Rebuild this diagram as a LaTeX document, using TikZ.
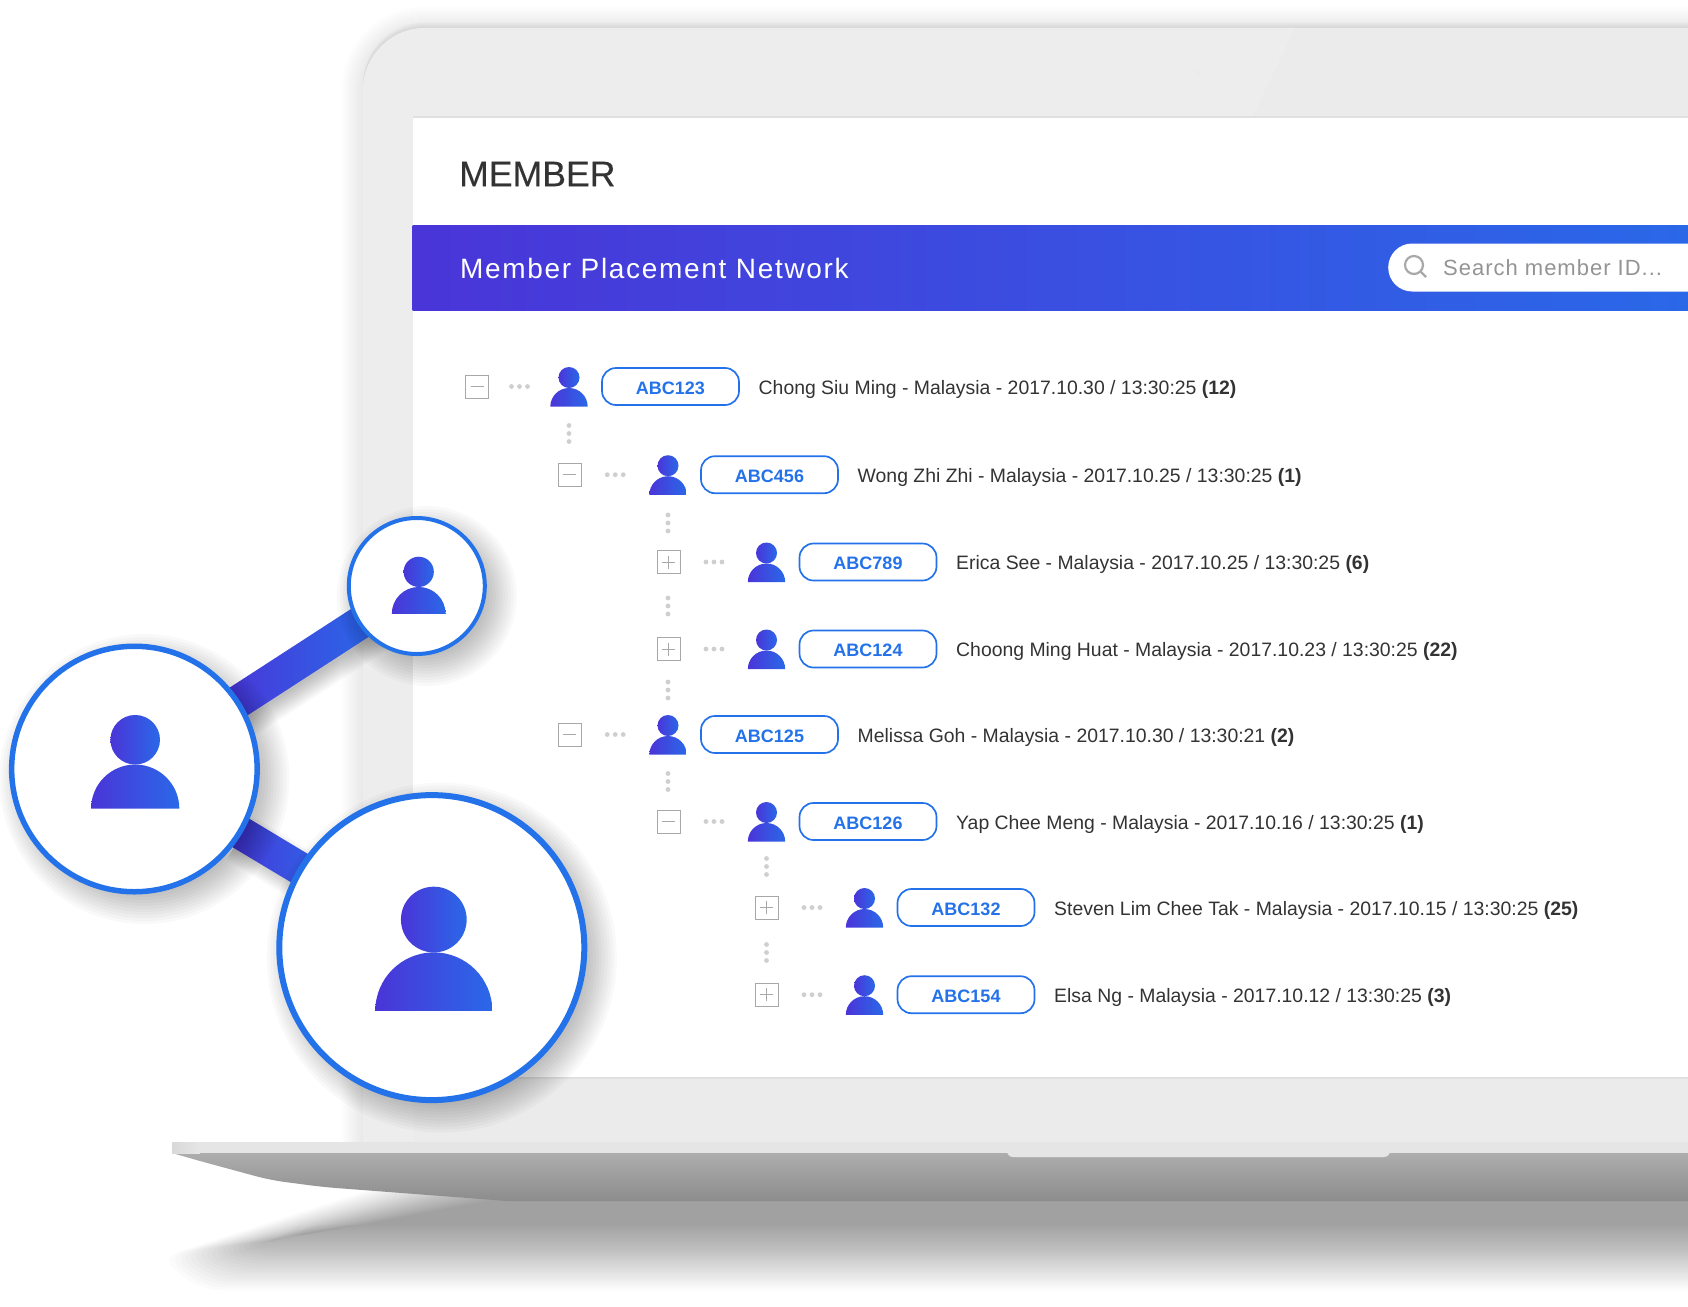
\documentclass[tikz,border=0pt]{standalone}
\usepackage{fontspec}
\setmainfont{Liberation Sans}
\usetikzlibrary{calc}
\definecolor{gradleft}{HTML}{4A35D8}
\definecolor{gradright}{HTML}{2A68E8}
\definecolor{ringblue}{HTML}{2472EA}
\definecolor{lidgrey}{HTML}{EBEBEB}
\definecolor{dotgrey}{HTML}{CFCFCF}
\definecolor{boxgrey}{HTML}{A8A8A8}
\definecolor{inkgrey}{HTML}{333333}
\tikzset{
    gradfill/.style={left color=gradleft, right color=gradright},
    softshadow/.style={black, opacity=0.022},
    person/.pic={
        \shade[gradfill] (0,-9) circle (10.5);
        \shade[gradfill] (-18.7,20.2) arc[start angle=180, delta angle=180, radius=18.7] -- cycle;
    },
    ringnode/.style={circle, draw=ringblue, fill=white, inner sep=0},
    idpill/.style={draw=ringblue, line width=1.7, rounded corners=14, minimum width=137,
        minimum height=37, inner sep=0, text height=15, text depth=0, text=ringblue, font=\fontsize{18}{20}\selectfont\bfseries},
    rowtext/.style={anchor=west, inner sep=0, text=inkgrey, font=\fontsize{19.4}{22}\selectfont},
    minusbox/.style={draw=boxgrey, line width=1, minimum size=23, inner sep=0, path picture={
        \draw[boxgrey, line width=1] ($(path picture bounding box.center)+(-6.5,0)$) -- ++(13,0);}},
    plusbox/.style={minusbox, path picture={
        \draw[boxgrey, line width=1] ($(path picture bounding box.center)+(-6.5,0)$) -- ++(13,0);
        \draw[boxgrey, line width=1] ($(path picture bounding box.center)+(0,-6.5)$) -- ++(0,13);}},
}
\begin{document}
\begin{tikzpicture}[x=1pt, y=-1pt]
    \useasboundingbox (0,0) rectangle (1688,1306);
    \clip (0,0) rectangle (1688,1306);
    \fill[white] (0,0) rectangle (1688,1306);
    % shadow under the laptop
    \foreach \t in {0,0.04,...,1} {
        \fill[black, opacity=0.015, rounded corners=20] (400+120*\t,1180+15*\t) -- (160+130*\t,1258-20*\t)
            -- (200+100*\t,1290-65*\t) -- (1800,1290-65*\t) -- (1800,1180) -- cycle;
    }
    % lid
    \foreach \k in {1,...,22} {
        \fill[black, opacity=0.0025] (363-\k,1142) [rounded corners=62+\k] |- (1800,28-\k) [sharp corners] -- (1800,1142) -- cycle;
    }
    \foreach \k in {1,...,6} {
        \fill[black, opacity=0.01] (363,1142) [rounded corners=62] |- (1800,28-\k) [sharp corners] -- (1800,1142) -- cycle;
    }
    \fill[lidgrey] (363,1142) [rounded corners=62] |- (1800,28) [sharp corners] -- (1800,1142) -- cycle;
    \fill[white!93!black] (363,1142) [rounded corners=62] |- (600,28) [sharp corners] -- (1295,28) -- (1252,118) -- (413,118) -- (413,1142) -- cycle;
    \fill[white!92!black] (1198,73) circle (2.5);
    \fill[white!88!black] (413,116) rectangle (1720,1079);
    \fill[white] (413,118) rectangle (1720,1077);
    % base
    \shade[top color=white!68!black, bottom color=white!55!black] (172,1153) -- (200,1161) [rounded corners=14] -- (270,1180) -- (323,1187) [sharp corners] -- (507,1201) -- (1720,1201) -- (1720,1153) -- cycle;
    \fill[white!90!black] (173,1142) rectangle (1720,1153);
    \shade[left color=white!85!black, right color=white!90!black] (172,1142) rectangle (200,1153);
    \fill[white!90!black, rounded corners=6] (1007,1135) rectangle (1390,1157);
    \fill[lidgrey] (413,1130) rectangle (1720,1142);
    % header
    \node[anchor=west, inner sep=0, text=inkgrey, font=\fontsize{35.6}{40}\selectfont\addfontfeature{FakeBold=0.25}] (title) at (459,174) {MEMBER};
    \shade[gradfill] (412.5,225) rectangle (1688,310);
    \node[anchor=west, inner sep=0, text=white, font=\fontsize{28}{32}\selectfont\addfontfeature{LetterSpace=6}] (banner) at (460,268) {Member Placement Network};
    \node[anchor=west, fill=white, rounded corners=24, minimum width=400, minimum height=48, inner sep=0] (searchbox) at (1388,267.5) {};
    \draw[boxgrey, line width=2.2] (1414,265) circle (9);
    \draw[boxgrey, line width=2.2] (1420.5,271.5) -- (1426,277);
    \node[anchor=west, inner sep=0, text=white!58!black, font=\fontsize{22}{26}\selectfont\addfontfeature{LetterSpace=4.5}] (searchtext) at (1443,267.5) {Search member ID...};
    % rows of the tree
    \foreach \px/\bx/\ry/\kind/\uid/\info/\cnt in {
        569/477/386.5/minusbox/ABC123/{Chong Siu Ming - Malaysia - 2017.10.30 / 13:30:25}/12,
        668/569.5/474.7/minusbox/ABC456/{Wong Zhi Zhi - Malaysia - 2017.10.25 / 13:30:25}/1,
        766.5/668.5/562/plusbox/ABC789/{Erica See - Malaysia - 2017.10.25 / 13:30:25}/6,
        766.5/668.5/649/plusbox/ABC124/{Choong Ming Huat - Malaysia - 2017.10.23 / 13:30:25}/22,
        668/569.5/734.5/minusbox/ABC125/{Melissa Goh - Malaysia - 2017.10.30 / 13:30:21}/2,
        766.5/668.5/821.5/minusbox/ABC126/{Yap Chee Meng - Malaysia - 2017.10.16 / 13:30:25}/1,
        864.5/766.5/907.5/plusbox/ABC132/{Steven Lim Chee Tak - Malaysia - 2017.10.15 / 13:30:25}/25,
        864.5/766.5/994.7/plusbox/ABC154/{Elsa Ng - Malaysia - 2017.10.12 / 13:30:25}/3} {
        \node[\kind] (box\uid) at (\bx,\ry) {};
        \foreach \d in {-8,0,8} {
            \fill[dotgrey] (\bx/2+\px/2-3.5+\d,\ry) circle (2.4);
        }
        \pic at (\px,\ry) {person};
        \node[idpill] (pill\uid) at (\px+101.5,\ry) {\uid};
        \node[rowtext] (info\uid) at (\px+189.5,\ry+2.5) {\info{} \textbf{(\cnt)}};
    }
    % dots going down the tree
    \foreach \px/\py in {569/433.5, 668/523, 668/606, 668/690, 668/781.5, 766.5/866.5, 766.5/952.5} {
        \foreach \d in {-8,0,8} {
            \fill[dotgrey] (\px,\py+\d) circle (2.4);
        }
    }
    % the three big circles
    \coordinate (ps) at (416.8,586);
    \coordinate (pm) at (134.4,769);
    \coordinate (pl) at (431.8,947.6);
    \coordinate (ua) at ($(pm)!0.33!(ps)$);
    \coordinate (ub) at ($(ps)!0.18!(pm)$);
    \coordinate (va) at ($(pm)!0.33!(pl)$);
    \coordinate (vb) at ($(pl)!0.35!(pm)$);
    \foreach \k in {-10,-8,...,10} {
        \draw[softshadow, line width=33+\k*1.8] ($(ua)+(7,10)$) -- ($(ub)+(7,10)$);
        \draw[softshadow, line width=33+\k*1.8] ($(va)+(7,10)$) -- ($(vb)+(7,10)$);
    }
    \shade[gradfill] ($(ua)!16.5pt!90:(ub)$) -- ($(ub)!16.5pt!-90:(ua)$) -- ($(ub)!16.5pt!90:(ua)$) -- ($(ua)!16.5pt!-90:(ub)$) -- cycle;
    \shade[gradfill] ($(va)!16.5pt!90:(vb)$) -- ($(vb)!16.5pt!-90:(va)$) -- ($(vb)!16.5pt!90:(va)$) -- ($(va)!16.5pt!-90:(vb)$) -- cycle;
    \foreach \k in {-10,-7,...,22} {
        \fill[softshadow] ($(ps)+(10,10)$) circle (70+\k);
        \fill[softshadow] ($(pm)+(10,10)$) circle (125+\k);
    }
    \node[ringnode, line width=4, minimum size=136] (small) at (ps) {};
    \node[ringnode, line width=5.5, minimum size=245.5] (medium) at (pm) {};
    \foreach \k in {-10,-7,...,22} {
        \fill[softshadow] ($(pl)+(10,10)$) circle (155+\k);
    }
    \node[ringnode, line width=6, minimum size=305] (large) at (pl) {};
    \pic[scale=1.44] at (418.7,584.8) {person};
    \pic[scale=2.36] at (135.2,761) {person};
    \pic[scale=3.13] at (433.8,947.7) {person};
\end{tikzpicture}
\end{document}
